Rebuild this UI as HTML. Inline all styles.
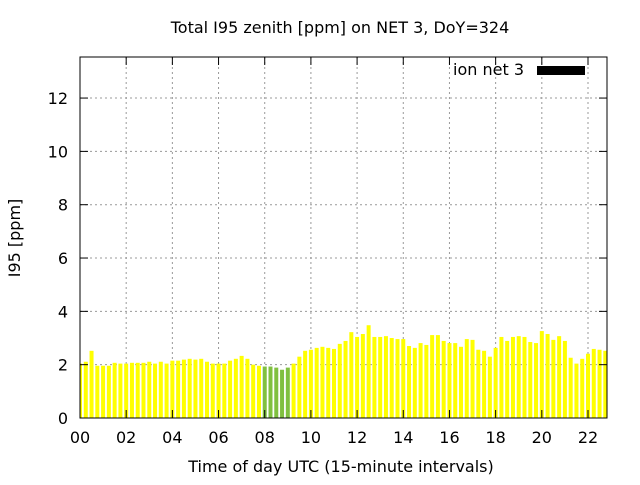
<!DOCTYPE html>
<html><head><meta charset="utf-8"><style>
body{margin:0;background:#fff;}
svg{font-family:"DejaVu Sans","Liberation Sans",sans-serif;}
</style></head><body>
<svg id="chart" width="640" height="480">
<text x="340" y="33" text-anchor="middle" font-size="16">Total I95 zenith [ppm] on NET 3, DoY=324</text>
<text x="0" y="0" transform="translate(20,238) rotate(-90)" text-anchor="middle" font-size="16">I95 [ppm]</text>
<text x="341" y="472" text-anchor="middle" font-size="16">Time of day UTC (15-minute intervals)</text>
<g id="grid"></g><g id="bars"></g><g id="axes"></g>
<rect x="80" y="57" width="527" height="361" fill="none" stroke="#000" stroke-width="1"/>
<text x="524" y="75" text-anchor="end" font-size="16">ion net 3</text>
<rect x="537" y="66" width="48" height="9" fill="#000"/>
</svg>
<script>
const values=[2.04,2.11,2.52,1.96,1.96,1.96,2.07,2.04,2.04,2.07,2.07,2.07,2.11,2.04,2.11,2.04,2.15,2.15,2.19,2.22,2.19,2.22,2.11,2.04,2.04,2.04,2.15,2.22,2.33,2.22,2.0,1.96,
1.93,1.93,1.89,1.81,1.89,2.04,2.3,2.52,2.56,2.63,2.67,2.63,2.59,2.78,2.89,3.22,3.04,3.15,3.48,3.04,3.04,3.07,3.0,2.96,2.96,2.7,2.63,2.81,
2.74,3.11,3.11,2.89,2.81,2.81,2.67,2.96,2.93,2.56,2.52,2.3,2.63,3.04,2.89,3.04,3.07,3.04,2.85,2.81,3.26,3.15,2.93,3.07,2.89,2.26,2.04,2.22,2.41,2.59,2.56,2.52];
const greenIdx=[32,33,34,35,36];
const yTicks=[0,2,4,6,8,10,12];
const xTicks=["00","02","04","06","08","10","12","14","16","18","20","22"];
const NS="http://www.w3.org/2000/svg";
const X0=80,X1=607,Y0=418,YT=57,YMAX=13.54,SLOT=(588-80)/88;
const xs=i=>X0+i*SLOT, ys=v=>Y0-v*(Y0-YT)/YMAX;
function mk(t,a,p){const e=document.createElementNS(NS,t);for(const k in a)e.setAttribute(k,a[k]);p.appendChild(e);return e;}
const grid=document.getElementById('grid'),bars=document.getElementById('bars'),axes=document.getElementById('axes');
yTicks.forEach(v=>{const y=ys(v);
 if(v>0){const g=mk('line',{x1:X0,x2:X1,y1:y,y2:y,stroke:'#999','stroke-dasharray':'2,3'},grid);
 
 }
 mk('line',{x1:X0,x2:X0+8,y1:y,y2:y,stroke:'#000'},axes);
 mk('line',{x1:X1,x2:X1-8,y1:y,y2:y,stroke:'#000'},axes);
 const t=mk('text',{x:X0-12,y:y+6,'text-anchor':'end','font-size':16},axes);t.textContent=v;
 
 });
xTicks.forEach((lab,k)=>{const x=xs(k*8);
 if(k>0){const g=mk('line',{x1:x,x2:x,y1:YT,y2:Y0,stroke:'#999','stroke-dasharray':'2,3'},grid);
 
 }
 mk('line',{x1:x,x2:x,y1:Y0,y2:Y0-8,stroke:'#000'},axes);
 mk('line',{x1:x,x2:x,y1:YT,y2:YT+8,stroke:'#000'},axes);
 const t=mk('text',{x:x,y:Y0+25,'text-anchor':'middle','font-size':16},axes);t.textContent=lab;
 
 });
values.forEach((v,i)=>{const x=xs(i),y=ys(v);
 const l=Math.max(X0,x-2),r=Math.min(X1,x+2);
 const b=mk('rect',{x:l,y:y,width:r-l,height:Y0-y,fill:greenIdx.includes(i)?'#80c040':'#ffff00'},bars);
 
 });
</script>
</body></html>
